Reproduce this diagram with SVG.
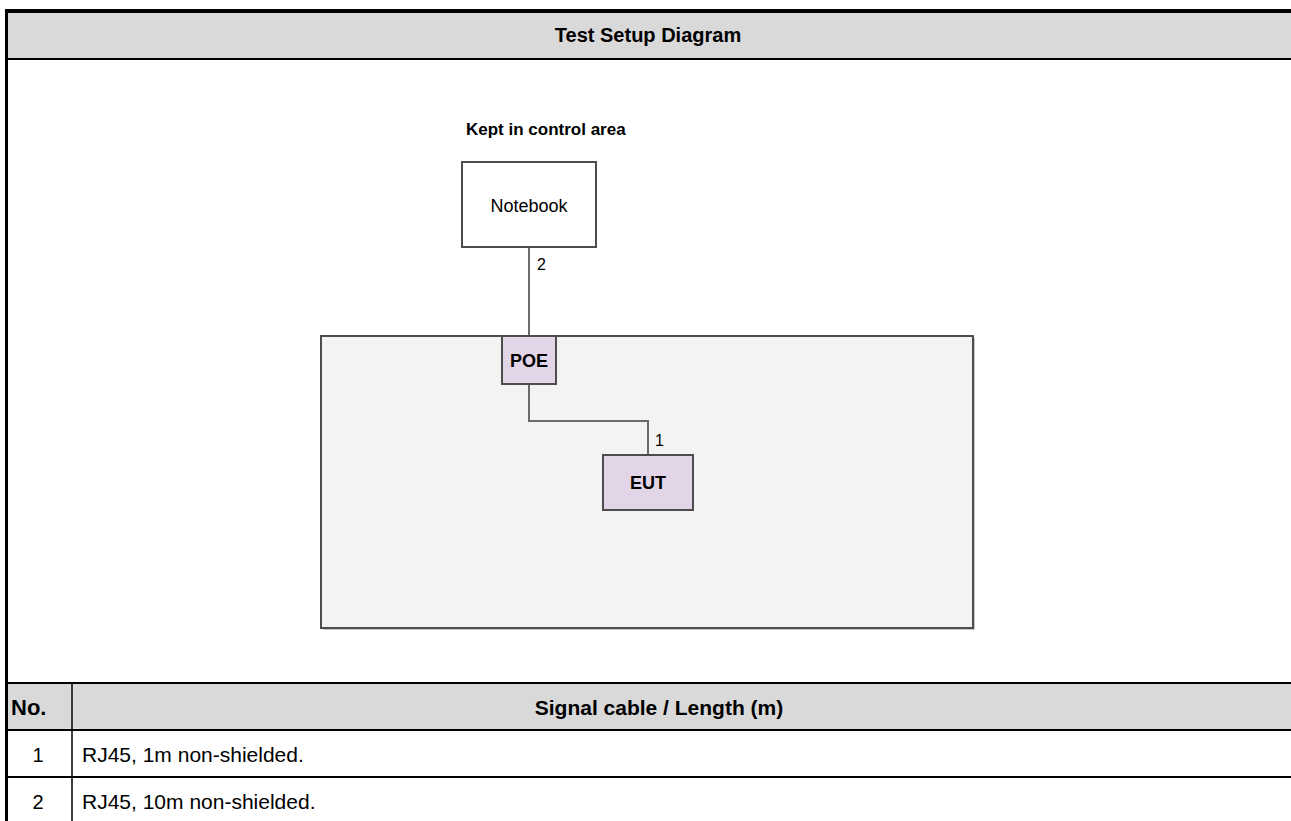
<svg xmlns="http://www.w3.org/2000/svg" width="1291" height="821" viewBox="0 0 1291 821">
<style>
.t{font-family:"Liberation Sans",Arial,sans-serif;fill:#000}
.b{font-weight:bold}
.node{stroke:#4d4d4d;stroke-width:2}
.cab{fill:none;stroke:#6b6b6b;stroke-width:2}
.rule{stroke:#000;stroke-width:2}
</style>
<rect x="0" y="0" width="1291" height="821" fill="#fff"/>
<g id="frame">
<rect x="7" y="11" width="1284" height="48" fill="#d9d9d9"/>
<rect x="7" y="683" width="1284" height="47" fill="#d9d9d9"/>
<line x1="5" y1="11" x2="1291" y2="11" stroke="#000" stroke-width="4"/>
<line x1="6.5" y1="9" x2="6.5" y2="821" stroke="#000" stroke-width="3"/>
<line x1="7" y1="59" x2="1291" y2="59" class="rule"/>
<line x1="7" y1="683" x2="1291" y2="683" class="rule"/>
<line x1="7" y1="730" x2="1291" y2="730" class="rule"/>
<line x1="7" y1="777" x2="1291" y2="777" class="rule"/>
<line x1="72" y1="683" x2="72" y2="821" stroke="#000" stroke-width="1.5"/>
<text x="648" y="42" text-anchor="middle" class="t b" font-size="20">Test Setup Diagram</text>
<text x="11" y="715" class="t b" font-size="22">No.</text>
<text x="659" y="715" text-anchor="middle" class="t b" font-size="21">Signal cable / Length (m)</text>
<text x="38" y="762" text-anchor="middle" class="t" font-size="20">1</text>
<text x="82" y="762" class="t" font-size="21">RJ45, 1m non-shielded.</text>
<text x="38" y="809" text-anchor="middle" class="t" font-size="20">2</text>
<text x="82" y="809" class="t" font-size="21">RJ45, 10m non-shielded.</text>
</g>
<g id="area">
<rect x="323" y="338" width="652" height="292" fill="#c8c8c8"/>
<rect x="321" y="336" width="652" height="292" fill="#f3f3f3" class="node"/>
</g>
<text id="area-label" x="466" y="135" class="t b" font-size="17">Kept in control area</text>
<g id="connectors">
<line x1="529" y1="247" x2="529" y2="336" class="cab"/>
<polyline points="529,384 529,421 648,421 648,455" class="cab"/>
<text x="537" y="270" class="t" font-size="16">2</text>
<text x="655" y="446" class="t" font-size="16">1</text>
</g>
<g id="notebook">
<rect x="462" y="162" width="134" height="85" fill="#fff" class="node"/>
<text x="529" y="212" text-anchor="middle" class="t" font-size="18">Notebook</text>
</g>
<g id="poe">
<rect x="502" y="336" width="54" height="48" fill="#e1d5e7" class="node"/>
<text x="529" y="367" text-anchor="middle" class="t b" font-size="18">POE</text>
</g>
<g id="eut">
<rect x="603" y="455" width="90" height="55" fill="#e1d5e7" class="node"/>
<text x="648" y="489" text-anchor="middle" class="t b" font-size="18">EUT</text>
</g>
</svg>
